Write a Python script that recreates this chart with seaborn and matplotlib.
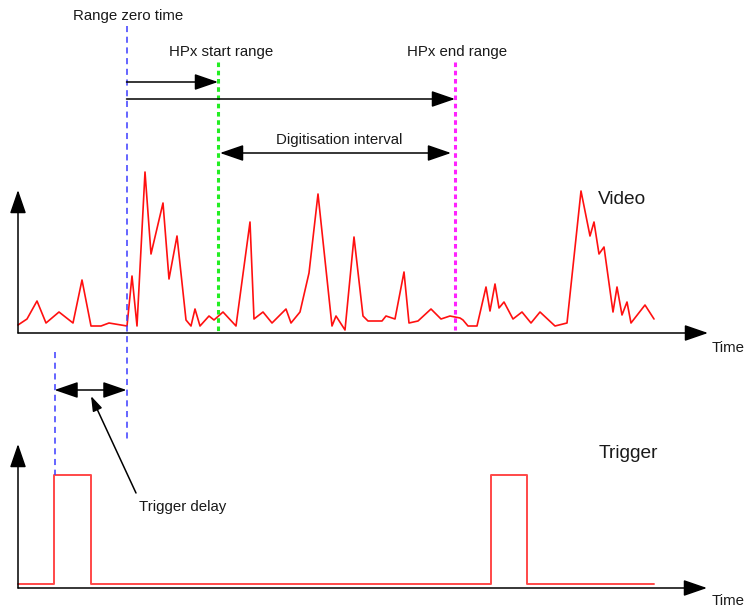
import matplotlib
matplotlib.use("Agg")
import matplotlib.pyplot as plt
import seaborn as sns
import pandas as pd

# Video trace (time, height above the video baseline)
video_t = [18, 27, 37, 46, 59, 73, 82, 91, 101, 109, 127, 132, 137, 145, 151, 163, 169, 177,
           186, 191, 195, 200, 209, 214, 223, 236, 250, 254, 263, 272, 286, 291, 300, 309,
           318, 332, 336, 345, 354, 363, 368, 382, 386, 395, 404, 409, 418, 431, 441, 450,
           460, 463, 468, 477, 486, 490, 495, 499, 504, 513, 522, 531, 540, 555, 567, 581,
           590, 594, 599, 604, 613, 617, 622, 627, 631, 645, 654]
video_v = [8, 14, 32, 10, 21, 10, 53, 7, 7, 10, 7, 57, 7, 161, 79, 130, 54, 97,
           13, 7, 24, 7, 17, 13, 21, 7, 111, 14, 21, 10, 24, 10, 21, 60,
           139, 7, 17, 3, 96, 17, 12, 12, 17, 14, 61, 10, 12, 24, 14, 17,
           15, 13, 7, 7, 46, 22, 49, 25, 31, 14, 21, 10, 21, 7, 10, 142,
           97, 111, 79, 86, 21, 46, 18, 31, 10, 28, 14]

# Trigger trace (time, level above the trigger baseline)
trig_t = [18, 54, 54, 91, 91, 491, 491, 527, 527, 654]
trig_v = [0, 0, 109, 109, 0, 0, 109, 109, 0, 0]

# Marker times
t_zero = 126.5
t_trigger = 54.5
t_start = 218
t_end = 455

video_base = 333
trig_base = 585

sns.set_style("white")
plt.rcParams["font.family"] = ["Liberation Sans", "DejaVu Sans"]

fig = plt.figure(figsize=(7.45, 6.07), dpi=100)
ax = fig.add_axes([0, 0, 1, 1])
ax.set_xlim(0, 745)
ax.set_ylim(607, 0)
ax.axis("off")

video = pd.DataFrame({"t": video_t, "y": [video_base - v for v in video_v]})
trig = pd.DataFrame({"t": trig_t, "y": [trig_base - 1 - v for v in trig_v]})
sns.lineplot(data=video, x="t", y="y", sort=False, estimator=None, color="#ff1010",
             linewidth=1.2, ax=ax)
sns.lineplot(data=trig, x="t", y="y", sort=False, estimator=None, color="#ff4848",
             linewidth=1.4, ax=ax)
ax.set_xlabel("")
ax.set_ylabel("")

def arrow(x0, y0, x1, y1, style="-|>"):
    ax.annotate("", xy=(x1, y1), xytext=(x0, y0),
                arrowprops=dict(arrowstyle=style + ",head_length=1.45,head_width=0.5",
                                color="black", lw=1.1, mutation_scale=10,
                                shrinkA=0, shrinkB=0))

# axes of the two signals
arrow(18, video_base, 18, 190)
arrow(18, video_base, 708, video_base)
arrow(18, trig_base + 3, 18, 444)
arrow(18, trig_base + 3, 707, trig_base + 3)

# marker lines
ax.plot([t_zero, t_zero], [26, 440], color="#3a3aff", lw=1.1, ls=(0, (4, 3)))
ax.plot([t_trigger, t_trigger], [352, 475], color="#3a3aff", lw=1.1, ls=(0, (4, 3)))
ax.plot([t_start, t_start], [62, 333], color="#22ee22", lw=2.2, ls=(0, (1.5, 1.2)))
ax.plot([t_end, t_end], [62, 330], color="#ff22ff", lw=2.2, ls=(0, (1.5, 1.2)))

# range arrows
arrow(t_zero, 82, t_start, 82)
arrow(t_zero, 99, t_end, 99)
arrow(t_start + 2, 153, t_end - 4, 153, "<|-|>")
arrow(t_trigger, 390, t_zero, 390, "<|-|>")
ax.annotate("", xy=(91, 396), xytext=(136, 493),
            arrowprops=dict(arrowstyle="-|>,head_length=0.9,head_width=0.3",
                            color="black", lw=1.1, mutation_scale=10, shrinkA=0, shrinkB=0))

txt = dict(color="#1a1a1a", fontsize=10.8, ha="center", va="center")
ax.text(128, 16, "Range zero time", **txt)
ax.text(221, 52, "HPx start range", **txt)
ax.text(457, 52, "HPx end range", **txt)
ax.text(339, 140, "Digitisation interval", **txt)
ax.text(183, 507, "Trigger delay", **txt)
ax.text(728, 348, "Time", **txt)
ax.text(728, 601, "Time", **txt)
ax.text(622, 200, "Video", color="#1a1a1a", fontsize=13.8, ha="center", va="center")
ax.text(628, 454, "Trigger", color="#1a1a1a", fontsize=13.8, ha="center", va="center")

fig.savefig("out.png", dpi=100)
